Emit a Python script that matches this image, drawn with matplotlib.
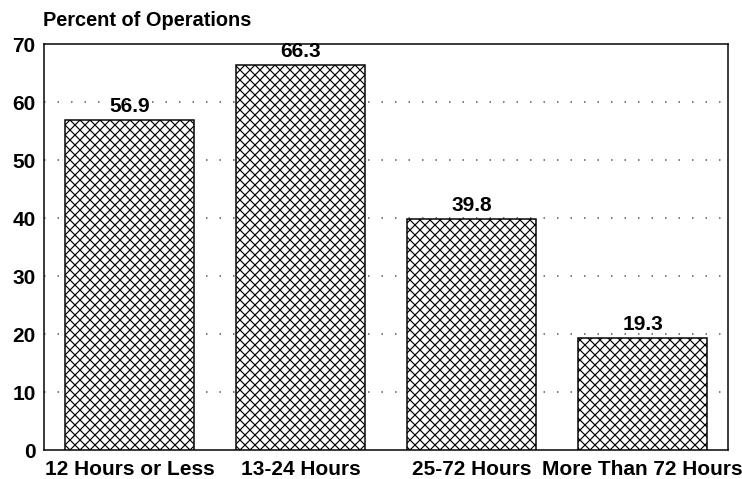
import numpy as np
import matplotlib
matplotlib.use('Agg')
import matplotlib.pyplot as plt

categories = ['12 Hours or Less', '13-24 Hours', '25-72 Hours', 'More Than 72 Hours']
values = [56.9, 66.3, 39.8, 19.3]
yticks = [0, 10, 20, 30, 40, 50, 60, 70]

plt.rcParams['font.family'] = ['Liberation Sans', 'DejaVu Sans']
plt.rcParams['font.weight'] = 'bold'
plt.rcParams['hatch.linewidth'] = 0.7

dpi = 120
fig = plt.figure(figsize=(742/dpi, 479/dpi), dpi=dpi)
ax = fig.add_axes([44/742, 29/479, 684/742, 406/479])

x = np.arange(len(categories))
bars = ax.bar(x, values, width=0.75, color='white', edgecolor='black',
              hatch='xxxx', linewidth=0.9, zorder=3)

for xi, v in zip(x, values):
    ax.text(xi, v + 0.7, '%.1f' % v, ha='center', va='bottom',
            fontsize=12.5, fontweight='bold')

ax.set_xlim(-0.5, 3.5)
ax.set_ylim(0, 70)
ax.set_yticks(yticks)
ax.set_xticks(x)
ax.set_xticklabels(categories, fontsize=12.5, fontweight='bold')
ax.tick_params(axis='both', length=0, labelsize=12.5)
ax.tick_params(axis='y', pad=5)
ax.tick_params(axis='x', pad=6)
for lab in ax.get_yticklabels():
    lab.set_fontweight('bold')

for y in yticks[1:-1]:
    ax.axhline(y, color='#555555', linestyle=(0, (1, 8)), linewidth=0.9, zorder=1)

for s in ax.spines.values():
    s.set_linewidth(0.9)

fig.text(43/742, 1 - 20/479, 'Percent of Operations', fontsize=12,
         fontweight='bold', va='center', ha='left')

fig.savefig('out.png', dpi=dpi)
